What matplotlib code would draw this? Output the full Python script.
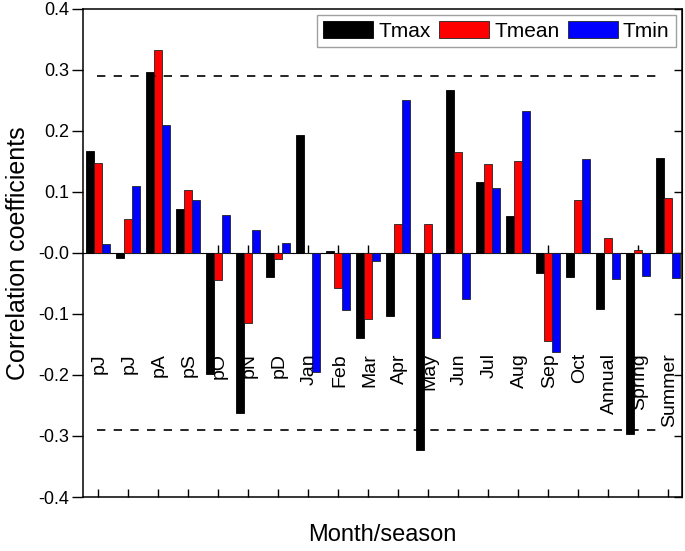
import matplotlib
matplotlib.use('Agg')
import matplotlib.pyplot as plt
import numpy as np

# categories and correlation values
categories = ['pJ', 'pJ', 'pA', 'pS', 'pO', 'pN', 'pD', 'Jan', 'Feb', 'Mar',
              'Apr', 'May', 'Jun', 'Jul', 'Aug', 'Sep', 'Oct',
              'Annual', 'Spring', 'Summer']
tmax = [0.168, -0.008, 0.297, 0.072, -0.198, -0.263, -0.039, 0.193, 0.003, -0.140,
        -0.104, -0.323, 0.268, 0.117, 0.061, -0.032, -0.040, -0.092, -0.297, 0.156]
tmean = [0.148, 0.056, 0.332, 0.103, -0.045, -0.114, -0.010, 0.0, -0.057, -0.109,
         0.048, 0.048, 0.166, 0.146, 0.151, -0.144, 0.087, 0.024, 0.005, 0.090]
tmin = [0.015, 0.110, 0.209, 0.087, 0.063, 0.038, 0.017, -0.195, -0.094, -0.013,
        0.250, -0.140, -0.076, 0.106, 0.232, -0.162, 0.154, -0.043, -0.037, -0.041]
sig_level = 0.29

plt.rcParams['font.family'] = ['Liberation Sans', 'DejaVu Sans']

fig = plt.figure(figsize=(6.85, 5.51), dpi=100)
ax = fig.add_axes([0.1212, 0.098, 0.8744, 0.8857])

x = np.arange(1, len(categories) + 1)
w = 0.267
ax.bar(x - w, tmax, w, color='black', edgecolor='black', linewidth=0.6, label='Tmax')
ax.bar(x, tmean, w, color='#ff0000', edgecolor='#222222', linewidth=0.6, label='Tmean')
ax.bar(x + w, tmin, w, color='#0000ff', edgecolor='#222222', linewidth=0.6, label='Tmin')

# significance lines
for s in (sig_level, -sig_level):
    ax.plot([x[0] - 0.03, x[-1] - 0.2], [s, s], color='black', lw=1.2,
            dashes=(5, 5))

ax.set_xlim(0.5, 20.47)
ax.set_ylim(-0.4, 0.4)
ax.set_yticks(np.arange(-0.4, 0.41, 0.1))
ax.set_yticklabels(['%.1f' % v for v in np.arange(-0.4, 0.41, 0.1)])
ax.set_xticks(x)
ax.set_xticklabels([])
ax.tick_params(axis='x', direction='in', length=6, width=1, bottom=True, top=False)
ax.tick_params(axis='y', direction='out', length=8, width=1, labelsize=13,
               left=True, right=False, pad=2)
for sp in ax.spines.values():
    sp.set_linewidth(1.1)

# inward ticks on right spine
rax = ax.secondary_yaxis('right')
rax.set_yticks(np.arange(-0.4, 0.41, 0.1))
rax.set_yticklabels([])
rax.tick_params(direction='in', length=6, width=1)

# zero line with downward ticks
zax = ax.secondary_xaxis(0.5)
zax.set_xticks(x)
zax.set_xticklabels([])
zax.tick_params(direction='out', length=6, width=1)
zax.spines['bottom'].set_linewidth(1.1)

for xi, lab in zip(x, categories):
    ax.text(xi + 0.05, -0.164, lab, rotation=90, ha='center', va='top', fontsize=14)

ax.set_ylabel('Correlation coefficients', fontsize=18, labelpad=6)
ax.set_xlabel('Month/season', fontsize=17, labelpad=16)

leg = ax.legend(loc='upper right', ncol=3, fontsize=15, frameon=True, fancybox=False,
                handlelength=2.4, handleheight=0.85, handletextpad=0.25,
                columnspacing=0.4, borderaxespad=0.3, borderpad=0.3)
leg.get_frame().set_edgecolor('#888888')
leg.get_frame().set_linewidth(1.0)

fig.savefig('out.png', dpi=100)
